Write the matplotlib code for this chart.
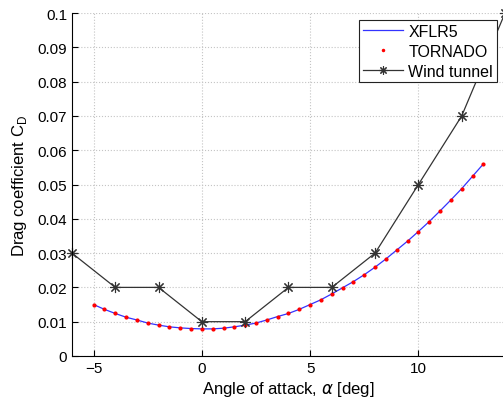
import matplotlib
matplotlib.use('Agg')
import matplotlib.pyplot as plt

# XFLR5 / TORNADO polar, every 0.5 deg
alpha_calc = [-5, -4.5, -4, -3.5, -3, -2.5, -2, -1.5, -1, -0.5, 0, 0.5, 1, 1.5, 2,
              2.5, 3, 3.5, 4, 4.5, 5, 5.5, 6, 6.5, 7, 7.5, 8, 8.5, 9, 9.5, 10,
              10.5, 11, 11.5, 12, 12.5, 13]
cd_calc = [0.0150, 0.0136, 0.0124, 0.0113, 0.0105, 0.0096, 0.0090, 0.0085, 0.0082,
           0.0080, 0.0079, 0.0079, 0.0081, 0.0085, 0.0090, 0.0096, 0.0105, 0.0115,
           0.0124, 0.0136, 0.0150, 0.0164, 0.0181, 0.0199, 0.0217, 0.0237, 0.0259,
           0.0283, 0.0309, 0.0335, 0.0363, 0.0392, 0.0423, 0.0455, 0.0488, 0.0524,
           0.0560]

# wind tunnel measurements
alpha_wt = [-6, -4, -2, 0, 2, 4, 6, 8, 10, 12, 14]
cd_wt = [0.03, 0.02, 0.02, 0.01, 0.01, 0.02, 0.02, 0.03, 0.05, 0.07, 0.1]

xticks = [-5, 0, 5, 10]
yticks = [0, 0.01, 0.02, 0.03, 0.04, 0.05, 0.06, 0.07, 0.08, 0.09, 0.1]
ytick_labels = ['0', '0.01', '0.02', '0.03', '0.04', '0.05', '0.06', '0.07', '0.08', '0.09', '0.1']

plt.rcParams['font.family'] = ['Liberation Sans', 'DejaVu Sans']

fig = plt.figure(figsize=(5.03, 4.02), dpi=100)
ax = fig.add_axes([0.143, 0.112, 0.861, 0.853])

ax.plot(alpha_calc, cd_calc, color='#3333ff', lw=0.9, label='XFLR5')
ax.plot(alpha_calc, cd_calc, ls='none', marker='o', ms=2.0, color='red', label='TORNADO')
ax.plot(alpha_wt, cd_wt, color='#333333', lw=0.9, marker=(8, 2, 0), ms=8,
        mew=0.8, label='Wind tunnel', clip_on=False)

ax.set_xlim(-6, 14)
ax.set_ylim(0, 0.1)
ax.set_xticks(xticks)
ax.set_yticks(yticks)
ax.set_yticklabels(ytick_labels)
ax.tick_params(direction='in', labelsize=11, length=4)
ax.grid(True, ls=':', color='#c4c4c4', lw=0.8)
ax.spines['top'].set_visible(False)
ax.spines['right'].set_visible(False)

ax.set_xlabel(r'Angle of attack, $\alpha$ [deg]', fontsize=12, labelpad=3)
ax.set_ylabel(r'Drag coefficient C$_\mathregular{D}$', fontsize=12, labelpad=6)

leg = ax.legend(loc='upper right', bbox_to_anchor=(0.981, 0.98), fontsize=11.5,
                fancybox=False, framealpha=1, edgecolor='#222222',
                handlelength=2.55, borderpad=0.25, labelspacing=0.3,
                handletextpad=0.3, borderaxespad=0, markerscale=0.75)
leg.get_frame().set_linewidth(0.8)

fig.savefig('out.png', dpi=100)
